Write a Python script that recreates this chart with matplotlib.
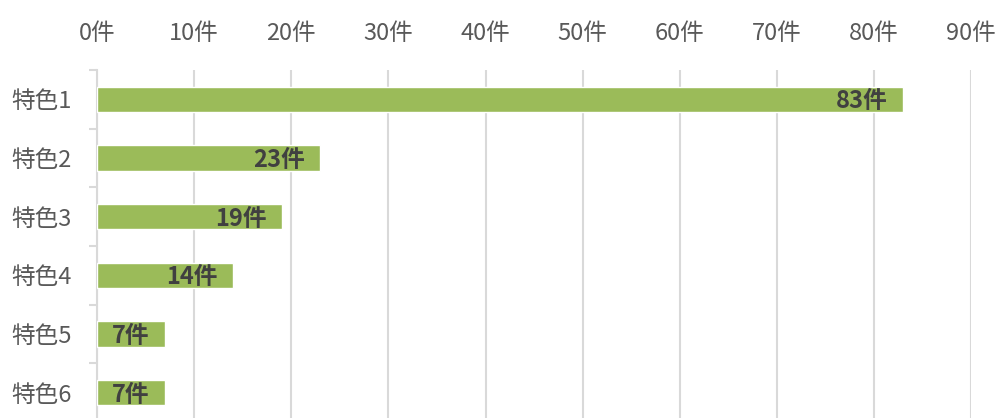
import matplotlib.pyplot as plt
import numpy as np

# 特色ごとの件数
categories = ['特色1', '特色2', '特色3', '特色4', '特色5', '特色6']
counts = [83, 23, 19, 14, 7, 7]
x_ticks = [0, 10, 20, 30, 40, 50, 60, 70, 80, 90]

plt.rcParams['font.family'] = ['Noto Sans CJK JP', 'DejaVu Sans']

fig = plt.figure(figsize=(9.98, 4.18), dpi=100)
ax = fig.add_axes([0.0972, -0.0096, 0.876, 0.842])

y = np.arange(len(categories))
bars = ax.barh(y, counts, height=0.43, color='#9BBB59', edgecolor='white', linewidth=1, zorder=3)

# 件数ラベル(棒の右端の内側)
for yi, v in zip(y, counts):
    ax.annotate(f'{v}件', xy=(v, yi), xytext=(-11, -1.5), textcoords='offset points',
                ha='right', va='center', fontsize=17, fontweight='bold', color='#404040', zorder=4)

ax.set_xlim(0, 90)
ax.set_ylim(len(categories) - 0.5, -0.5)

ax.xaxis.tick_top()
ax.set_xticks(x_ticks)
ax.set_xticklabels([f'{t}件' for t in x_ticks])
ax.tick_params(axis='x', length=0, pad=18, labelsize=17, labelcolor='#595959')

ax.set_yticks(y)
ax.set_yticklabels(categories)
ax.set_yticks(np.arange(len(categories) + 1) - 0.5, minor=True)
ax.tick_params(axis='y', which='major', length=0, pad=18, labelsize=17, labelcolor='#595959')
ax.tick_params(axis='y', which='minor', length=6, width=1.5, color='#D9D9D9')

ax.grid(axis='x', color='#D9D9D9', linewidth=1.5, zorder=0)
for s in ['top', 'right', 'bottom']:
    ax.spines[s].set_visible(False)
ax.spines['left'].set_color('#D9D9D9')
ax.spines['left'].set_linewidth(1.5)

plt.savefig('out.png', dpi=100)
